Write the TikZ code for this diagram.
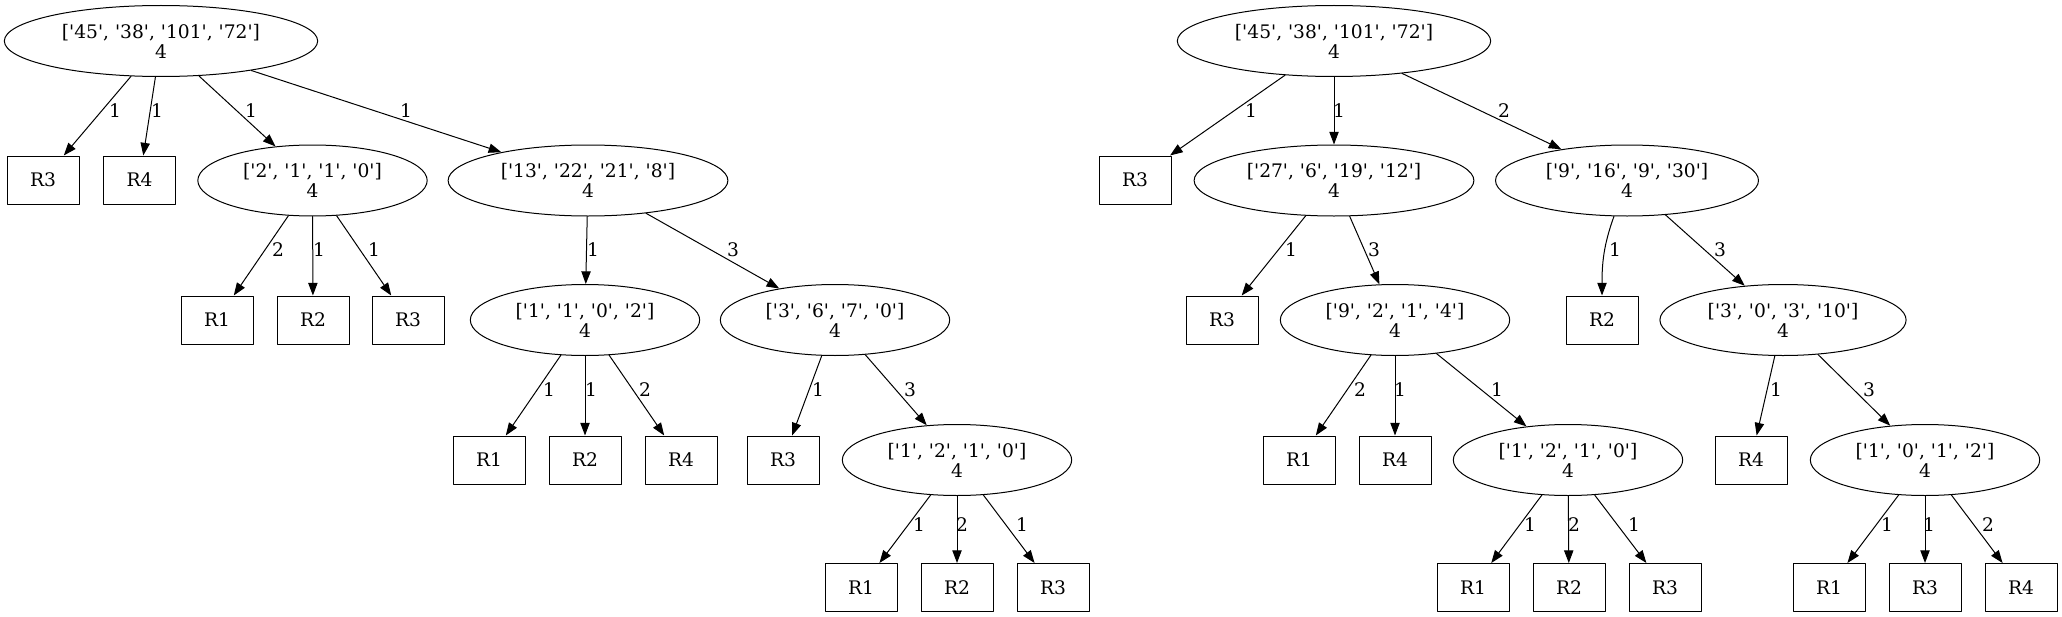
\documentclass[tikz,border=0pt]{standalone}
\usepackage{fontspec}
\setmainfont{DejaVu Serif}[Ligatures=TeXOff]
\usepackage{tikz}
\usetikzlibrary{arrows.meta}
\usetikzlibrary{shapes.geometric}

\begin{document}
\begin{tikzpicture}[line cap=round,line join=round,>={Triangle[length=9.5pt,width=7pt]},x=0.75pt,y=-0.75pt,
  every node/.style={font=\fontsize{14}{15}\selectfont},
  est/.style={draw,ellipse,line width=0.75pt,align=center,inner xsep=8.8pt,inner ysep=0pt,minimum height=53.25pt},
  leaf/.style={draw,rectangle,line width=0.75pt,inner sep=0pt,minimum width=54pt,minimum height=36pt},
  edge/.style={->,line width=0.75pt},
  elab/.style={inner sep=0pt}]
\useasboundingbox (0,0) rectangle (2062,617);
% left tree
\node[est] (lroot) at (161,41) {['45', '38', '101', '72']\\4};
\node[leaf] (lR3) at (43,180) {R3};
\node[leaf] (lR4) at (139.5,180) {R4};
\node[est] (lA) at (312.5,180.5) {['2', '1', '1', '0']\\4};
\node[est] (lB) at (588,180.5) {['13', '22', '21', '8']\\4};
\node[leaf] (lAR1) at (217,320) {R1};
\node[leaf] (lAR2) at (313,320) {R2};
\node[leaf] (lAR3) at (408,320) {R3};
\node[est] (lBA) at (585,320) {['1', '1', '0', '2']\\4};
\node[est] (lBB) at (835,320) {['3', '6', '7', '0']\\4};
\node[leaf] (lBAR1) at (489,460) {R1};
\node[leaf] (lBAR2) at (585,460) {R2};
\node[leaf] (lBAR4) at (681,460) {R4};
\node[leaf] (lBBR3) at (783,460) {R3};
\node[est] (lBBB) at (957,460) {['1', '2', '1', '0']\\4};
\node[leaf] (lBBBR1) at (861,587.5) {R1};
\node[leaf] (lBBBR2) at (957,587.5) {R2};
\node[leaf] (lBBBR3) at (1053,587.5) {R3};
\draw [edge] (lroot) -- (lR3) node[elab] at (115,111) {1};
\draw [edge] (lroot) -- (lR4) node[elab] at (157,111) {1};
\draw [edge] (lroot) -- (lA) node[elab] at (251,111) {1};
\draw [edge] (lroot) -- (lB) node[elab] at (406,111) {1};
\draw [edge] (lA) -- (lAR1) node[elab] at (278,250) {2};
\draw [edge] (lA) -- (lAR2) node[elab] at (319,250) {1};
\draw [edge] (lA) -- (lAR3) node[elab] at (374,250) {1};
\draw [edge] (lB) -- (lBA) node[elab] at (593,250) {1};
\draw [edge] (lB) -- (lBB) node[elab] at (733,250) {3};
\draw [edge] (lBA) -- (lBAR1) node[elab] at (549,390) {1};
\draw [edge] (lBA) -- (lBAR2) node[elab] at (591,390) {1};
\draw [edge] (lBA) -- (lBAR4) node[elab] at (645,390) {2};
\draw [edge] (lBB) -- (lBBR3) node[elab] at (818,390) {1};
\draw [edge] (lBB) -- (lBBB) node[elab] at (910,390) {3};
\draw [edge] (lBBB) -- (lBBBR1) node[elab] at (919,525) {1};
\draw [edge] (lBBB) -- (lBBBR2) node[elab] at (962,525) {2};
\draw [edge] (lBBB) -- (lBBBR3) node[elab] at (1022,525) {1};
% right tree
\node[est] (rroot) at (1334,41) {['45', '38', '101', '72']\\4};
\node[leaf] (rR3) at (1135,180) {R3};
\node[est] (rA) at (1334,180.5) {['27', '6', '19', '12']\\4};
\node[est] (rB) at (1627,180.5) {['9', '16', '9', '30']\\4};
\node[leaf] (rAR3) at (1222,320) {R3};
\node[est] (rAB) at (1395,320) {['9', '2', '1', '4']\\4};
\node[leaf] (rBR2) at (1602,320) {R2};
\node[est] (rBB) at (1783,320) {['3', '0', '3', '10']\\4};
\node[leaf] (rABR1) at (1299,460) {R1};
\node[leaf] (rABR4) at (1395,460) {R4};
\node[est] (rABC) at (1568,460) {['1', '2', '1', '0']\\4};
\node[leaf] (rBBR4) at (1751,460) {R4};
\node[est] (rBBB) at (1925,460) {['1', '0', '1', '2']\\4};
\node[leaf] (rABCR1) at (1473,587.5) {R1};
\node[leaf] (rABCR2) at (1569,587.5) {R2};
\node[leaf] (rABCR3) at (1665,587.5) {R3};
\node[leaf] (rBBBR1) at (1829,587.5) {R1};
\node[leaf] (rBBBR3) at (1925,587.5) {R3};
\node[leaf] (rBBBR4) at (2021,587.5) {R4};
\draw [edge] (rroot) -- (rR3) node[elab] at (1251,111) {1};
\draw [edge] (rroot) -- (rA) node[elab] at (1339,111) {1};
\draw [edge] (rroot) -- (rB) node[elab] at (1504,111) {2};
\draw [edge] (rA) -- (rAR3) node[elab] at (1291,250) {1};
\draw [edge] (rA) -- (rAB) node[elab] at (1374,250) {3};
\draw [edge] (rB) to[out=-110,in=90] (rBR2) node[elab] at (1615,250) {1};
\draw [edge] (rB) -- (rBB) node[elab] at (1720,250) {3};
\draw [edge] (rAB) -- (rABR1) node[elab] at (1360,390) {2};
\draw [edge] (rAB) -- (rABR4) node[elab] at (1400,390) {1};
\draw [edge] (rAB) -- (rABC) node[elab] at (1497,390) {1};
\draw [edge] (rBB) -- (rBBR4) node[elab] at (1776,390) {1};
\draw [edge] (rBB) -- (rBBB) node[elab] at (1869,390) {3};
\draw [edge] (rABC) -- (rABCR1) node[elab] at (1530,525) {1};
\draw [edge] (rABC) -- (rABCR2) node[elab] at (1574,525) {2};
\draw [edge] (rABC) -- (rABCR3) node[elab] at (1634,525) {1};
\draw [edge] (rBBB) -- (rBBBR1) node[elab] at (1887,525) {1};
\draw [edge] (rBBB) -- (rBBBR3) node[elab] at (1929,525) {1};
\draw [edge] (rBBB) -- (rBBBR4) node[elab] at (1988,525) {2};
\end{tikzpicture}
\end{document}
